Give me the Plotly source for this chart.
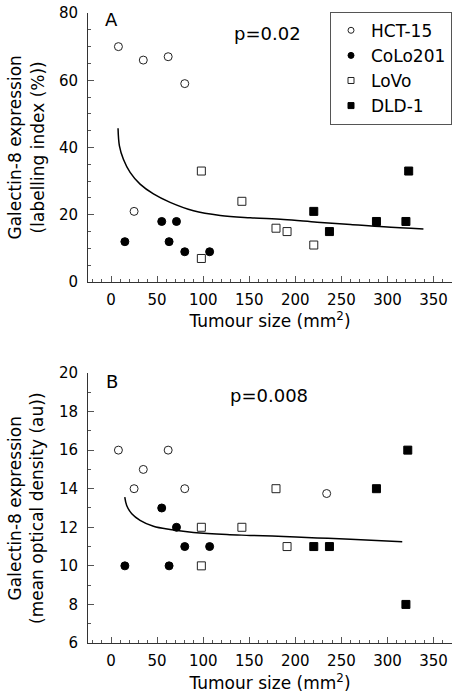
import plotly.graph_objects as go

# ---------------- data ----------------
# Panel A: labelling index (%)
hct_a_x = [8, 35, 62, 80, 25]
hct_a_y = [70, 66, 67, 59, 21]
colo_a_x = [15, 55, 71, 63, 80, 107]
colo_a_y = [12, 18, 18, 12, 9, 9]
lovo_a_x = [98, 142, 98, 179, 191, 220]
lovo_a_y = [33, 24, 7, 16, 15, 11]
dld_a_x = [220, 237, 288, 320, 323]
dld_a_y = [21, 15, 18, 18, 33]
fit_a_x = [7.6, 9.1, 13.4, 20.7, 31.5, 46, 64.1, 89.5, 118.5, 151, 187.3, 223.6, 259.8, 296, 339]
fit_a_y = [45.7, 40.5, 36.5, 32.6, 29.1, 26.2, 23.7, 21.2, 19.8, 19.1, 18.6, 17.8, 17.1, 16.4, 15.8]

# Panel B: mean optical density (au)
hct_b_x = [8, 35, 62, 25, 80, 234]
hct_b_y = [16, 15, 16, 14, 14, 13.75]
colo_b_x = [15, 55, 71, 80, 107, 63]
colo_b_y = [10, 13, 12, 11, 11, 10]
lovo_b_x = [98, 98, 142, 179, 191]
lovo_b_y = [12, 10, 12, 14, 11]
dld_b_x = [220, 237, 288, 322, 320]
dld_b_y = [11, 11, 14, 16, 8]
fit_b_x = [14.9, 17, 22.5, 31.5, 46, 64.1, 89.5, 125.7, 151, 187.3, 223.6, 259.8, 316]
fit_b_y = [13.56, 13.13, 12.7, 12.36, 12.05, 11.88, 11.73, 11.62, 11.58, 11.52, 11.45, 11.38, 11.25]

series_names = ["HCT-15", "CoLo201", "LoVo", "DLD-1"]
x_tick_vals = [0, 50, 100, 150, 200, 250, 300, 350]

FONT = "DejaVu Sans"
styles = [
    dict(symbol="circle-open", color="#222"),
    dict(symbol="circle", color="black"),
    dict(symbol="square-open", color="#222"),
    dict(symbol="square", color="black"),
]

fig = go.Figure()

panel_a = [(hct_a_x, hct_a_y), (colo_a_x, colo_a_y), (lovo_a_x, lovo_a_y), (dld_a_x, dld_a_y)]
panel_b = [(hct_b_x, hct_b_y), (colo_b_x, colo_b_y), (lovo_b_x, lovo_b_y), (dld_b_x, dld_b_y)]

for i, (xs, ys) in enumerate(panel_a):
    st = styles[i]
    fig.add_trace(go.Scatter(
        x=xs, y=ys, mode="markers", name=series_names[i], legendgroup=series_names[i],
        marker=dict(symbol=st["symbol"], size=8, color=st["color"],
                    line=dict(width=1, color=st["color"])),
        xaxis="x", yaxis="y", showlegend=False))
fig.add_trace(go.Scatter(x=fit_a_x, y=fit_a_y, mode="lines", line=dict(color="black", width=1.5, shape="spline"),
                         xaxis="x", yaxis="y", showlegend=False))

for i, (xs, ys) in enumerate(panel_b):
    st = styles[i]
    fig.add_trace(go.Scatter(
        x=xs, y=ys, mode="markers", name=series_names[i], legendgroup=series_names[i],
        marker=dict(symbol=st["symbol"], size=8, color=st["color"],
                    line=dict(width=1, color=st["color"])),
        xaxis="x2", yaxis="y2", showlegend=False))
fig.add_trace(go.Scatter(x=fit_b_x, y=fit_b_y, mode="lines", line=dict(color="black", width=1.5, shape="spline"),
                         xaxis="x2", yaxis="y2", showlegend=False))

# legend entries (smaller symbols, as in the reference key)
for i, name in enumerate(series_names):
    st = styles[i]
    fig.add_trace(go.Scatter(
        x=[None], y=[None], mode="markers", name=name, legendgroup=name,
        marker=dict(symbol=st["symbol"], size=6, color=st["color"],
                    line=dict(width=1, color=st["color"])),
        xaxis="x", yaxis="y", showlegend=True))

axis_common = dict(showgrid=False, zeroline=False, showline=True, linecolor="#333", linewidth=1,
                   ticks="inside", tickcolor="#555", ticklen=6, tickwidth=1,
                   tickfont=dict(family=FONT, size=15, color="black"))

xcommon = dict(axis_common, range=[-25, 370], tickvals=x_tick_vals,
               minor=dict(ticks="inside", dtick=10, tick0=0, ticklen=3, tickcolor="#555", showgrid=False),
               ticklabelstandoff=4)

fig.update_layout(
    width=452, height=699,
    margin=dict(l=88, r=0, t=13, b=56),
    paper_bgcolor="white", plot_bgcolor="white",
    font=dict(family=FONT, color="black"),
    xaxis=dict(xcommon, anchor="y", domain=[0, 1],
               title=dict(text="Tumour size (mm<sup>2</sup>)", font=dict(size=17, family=FONT), standoff=6)),
    yaxis=dict(axis_common, range=[0, 80], dtick=20, tick0=0, domain=[0.573, 1], anchor="x",
               minor=dict(ticks="inside", dtick=5, tick0=0, ticklen=3, tickcolor="#555", showgrid=False),
               ticklabelstandoff=6),
    xaxis2=dict(xcommon, anchor="y2", domain=[0, 1],
                title=dict(text="Tumour size (mm<sup>2</sup>)", font=dict(size=17, family=FONT), standoff=8)),
    yaxis2=dict(axis_common, range=[6, 20], dtick=2, tick0=6, domain=[0, 0.4286], anchor="x2",
                minor=dict(ticks="inside", dtick=1, tick0=6, ticklen=3, tickcolor="#555", showgrid=False),
                ticklabelstandoff=6),
    legend=dict(x=1, xanchor="right", y=1.002, yanchor="top", xref="paper", yref="paper",
                bordercolor="#555", borderwidth=1, bgcolor="white",
                font=dict(family=FONT, size=17), itemwidth=30, tracegroupgap=0),
    showlegend=True,
)

ann_font = dict(family=FONT, size=18, color="black")
fig.add_annotation(x=1, y=78, xref="x", yref="y", text="A", showarrow=False, font=ann_font)
fig.add_annotation(x=170, y=73.8, xref="x", yref="y", text="p=0.02", showarrow=False, font=ann_font)
fig.add_annotation(x=1, y=19.56, xref="x2", yref="y2", text="B", showarrow=False, font=ann_font)
fig.add_annotation(x=171, y=18.85, xref="x2", yref="y2", text="p=0.008", showarrow=False, font=ann_font)

title_font = dict(family=FONT, size=17, color="black")
fig.add_annotation(x=0, y=0.7865, xref="paper", yref="paper", xshift=-62, textangle=-90,
                   xanchor="center", yanchor="middle",
                   text="Galectin-8 expression<br>(labelling index (%))", showarrow=False,
                   font=title_font, align="center")
fig.add_annotation(x=0, y=0.2143, xref="paper", yref="paper", xshift=-62, textangle=-90,
                   xanchor="center", yanchor="middle",
                   text="Galectin-8 expression<br>(mean optical density (au))", showarrow=False,
                   font=title_font, align="center")

fig.write_html("out.html", config={"displayModeBar": False},
               post_script="document.body.style.margin='0';document.body.style.overflow='hidden';")
